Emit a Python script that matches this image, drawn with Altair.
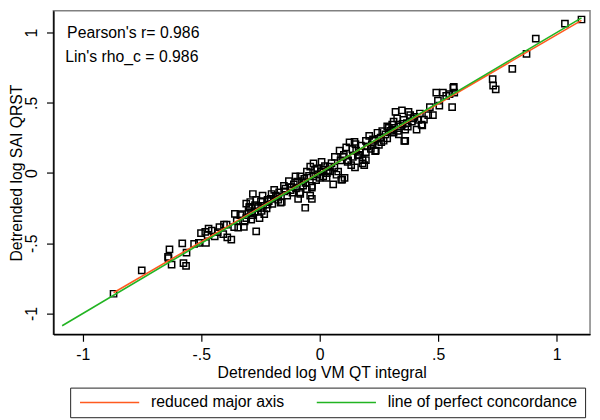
import altair as alt
import pandas as pd

# Scatter data (detrended log VM QT integral vs detrended log SAI QRST)
x_vals = [-0.870, -0.751, -0.634, -0.640, -0.638, -0.625, -0.580, -0.562, -0.575, -0.564,
          -0.530, -0.510, -0.501, -0.480, -0.483, -0.469, -0.473, -0.443, -0.423, -0.404,
          -0.393, -0.407, -0.390, -0.373, -0.358, -0.361, -0.344, -0.320, -0.310, -0.268,
          -0.297, -0.275, -0.239, -0.289, -0.254, -0.234, -0.165, -0.328, -0.317, -0.296,
          -0.293, -0.268, -0.273, -0.248, -0.241, -0.224, -0.220, -0.206, -0.203, -0.192,
          -0.171, -0.160, -0.151, -0.137, -0.130, -0.123, -0.109, -0.102, -0.091, -0.084,
          -0.075, -0.065, -0.061, -0.054, -0.040, -0.033, -0.026, -0.026, -0.020, -0.282,
          -0.310, -0.082, -0.033, -0.010, 0.008, -0.001, 0.015, 0.029, 0.043, 0.057,
          0.064, 0.071, 0.078, 0.084, 0.098, 0.095, 0.105, 0.112, 0.126, 0.133,
          0.140, 0.151, 0.154, 0.161, 0.174, 0.181, 0.195, 0.195, 0.209, 0.216,
          0.229, 0.237, 0.244, 0.257, 0.264, 0.278, 0.285, 0.292, 0.306, 0.312,
          -0.040, -0.054, 0.285, 0.306, 0.312, 0.320, 0.327, 0.334, 0.340, 0.347,
          0.354, 0.361, 0.361, 0.368, 0.375, 0.382, 0.389, 0.396, 0.416, 0.423,
          0.430, 0.458, 0.465, 0.478, 0.492, 0.499, 0.520, 0.534, 0.548, 0.559,
          0.564, 0.566, 0.568, 0.409, 0.730, 0.732, 0.743, 0.813, 0.873, 0.912,
          1.035, 1.105, 0.091, 0.149, 0.181, 0.195, 0.234, 0.357, 0.433, -0.033,
          -0.082, 0.188, 0.015, 0.043, 0.147, -0.180, -0.150, -0.120, -0.100, -0.060,
          -0.010, 0.030, 0.050, 0.120, 0.170, 0.220, 0.260, -0.220, -0.260, -0.290,
          -0.200, -0.455, -0.430, -0.350, -0.335, -0.300, -0.285, -0.262, -0.245, -0.215,
          -0.185, -0.175, -0.145, -0.115, -0.095, -0.070, -0.045, -0.015, 0.005, 0.022,
          0.036, 0.062, 0.088, 0.102, 0.118, 0.138, 0.165, 0.202, 0.225, 0.250,
          0.270, 0.298, 0.330, 0.350, 0.372, 0.400, 0.440, 0.505]
y_vals = [-0.859, -0.692, -0.543, -0.596, -0.605, -0.651, -0.500, -0.566, -0.641, -0.660,
          -0.504, -0.497, -0.428, -0.497, -0.419, -0.396, -0.442, -0.451, -0.385, -0.367,
          -0.367, -0.435, -0.458, -0.474, -0.291, -0.385, -0.389, -0.383, -0.321, -0.415,
          -0.241, -0.275, -0.234, -0.332, -0.321, -0.293, -0.211, -0.293, -0.344, -0.247,
          -0.206, -0.190, -0.229, -0.199, -0.160, -0.252, -0.225, -0.183, -0.149, -0.119,
          -0.137, -0.206, -0.091, -0.160, -0.057, -0.122, -0.080, -0.023, -0.183, -0.137,
          -0.057, -0.041, -0.247, -0.115, -0.160, -0.091, -0.023, 0.069, 0.023, -0.149,
          -0.218, -0.023, -0.103, 0.034, 0.080, -0.034, 0.023, -0.034, 0.046, -0.080,
          0.115, -0.012, 0.011, 0.160, 0.115, -0.046, -0.034, 0.183, 0.218, 0.057,
          0.115, 0.206, 0.160, 0.126, 0.195, 0.092, 0.149, 0.229, 0.264, 0.172,
          0.229, 0.160, 0.287, 0.252, 0.298, 0.275, 0.247, 0.321, 0.344, 0.287,
          0.046, 0.011, 0.332, 0.309, 0.366, 0.435, 0.390, 0.275, 0.332, 0.447,
          0.378, 0.309, 0.229, 0.355, 0.435, 0.412, 0.366, 0.390, 0.378, 0.424,
          0.344, 0.412, 0.470, 0.412, 0.573, 0.516, 0.573, 0.550, 0.562, 0.470,
          0.607, 0.614, 0.573, 0.309, 0.669, 0.623, 0.596, 0.742, 0.848, 0.957,
          1.063, 1.093, -0.046, 0.041, 0.069, 0.092, 0.156, 0.229, 0.339, -0.183,
          -0.149, 0.057, -0.023, 0.011, 0.222, -0.170, -0.130, -0.100, -0.110, -0.070,
          -0.010, 0.000, 0.070, 0.090, 0.150, 0.200, 0.220, -0.190, -0.240, -0.280,
          -0.220, -0.410, -0.420, -0.340, -0.300, -0.270, -0.300, -0.250, -0.270, -0.200,
          -0.160, -0.190, -0.110, -0.140, -0.060, -0.090, -0.020, -0.050, 0.010, 0.050,
          0.020, 0.040, 0.090, 0.130, 0.080, 0.170, 0.130, 0.190, 0.240, 0.200,
          0.230, 0.300, 0.300, 0.350, 0.330, 0.400, 0.380, 0.480]

# Fitted lines (end points)
rma_x = [-0.870, 1.105]
rma_y = [-0.852, 1.087]
loc_x = [-1.087, 1.105]
loc_y = [-1.087, 1.105]
series_names = ["reduced major axis", "line of perfect concordance"]
series_colors = ["#ff5a1f", "#22b422"]

# Axis ticks
tick_values = [-1, -0.5, 0, 0.5, 1]
tick_labels = ["-1", "-.5", "0", ".5", "1"]

# Annotations
annot_text = ["Pearson's r= 0.986", "Lin's rho_c = 0.986"]
annot_x = [-1.066, -1.074]
annot_y = [0.997, 0.825]

FONT = "Liberation Sans"
FS = 16

label_expr = " : ".join(
    f"datum.value == {v} ? '{t}'" for v, t in zip(tick_values, tick_labels)
) + " : ''"

pts = pd.DataFrame({"x": x_vals, "y": y_vals})
rma = pd.DataFrame({"x": rma_x, "y": rma_y, "series": series_names[0]})
loc = pd.DataFrame({"x": loc_x, "y": loc_y, "series": series_names[1]})
ann = pd.DataFrame({"x": annot_x, "y": annot_y, "t": annot_text})

xscale = alt.Scale(domain=[-1.124, 1.141], nice=False, zero=False)
yscale = alt.Scale(domain=[-1.148, 1.155], nice=False, zero=False)

xaxis = alt.Axis(values=tick_values, labelExpr=label_expr, title="Detrended log VM QT integral",
                 grid=False, tickSize=7, labelPadding=6, titlePadding=2)
yaxis = alt.Axis(values=tick_values, labelExpr=label_expr, title="Detrended log SAI QRST",
                 grid=False, tickSize=7, labelPadding=10, labelAngle=270,
                 labelAlign="center", labelBaseline="alphabetic",
                 titleX=-37, titleY=164, titleAngle=270, titleAlign="center",
                 titleBaseline="middle")

color_scale = alt.Scale(domain=series_names, range=series_colors)
legend = alt.Legend(title=None, orient="none", legendX=17, legendY=382, direction="horizontal",
                    strokeColor="#222222", padding=7, symbolType="M-1,0L11,0", symbolSize=100,
                    symbolStrokeWidth=1.6, labelFontSize=FS, labelFont=FONT, labelOffset=59,
                    columnPadding=28, labelColor="black", labelLimit=400)

points = alt.Chart(pts).mark_point(shape="square", filled=False, color="black", size=40,
                                   strokeWidth=1.5, opacity=1).encode(
    x=alt.X("x:Q", scale=xscale, axis=xaxis),
    y=alt.Y("y:Q", scale=yscale, axis=yaxis),
)

line_rma = alt.Chart(rma).mark_line(strokeWidth=1.6).encode(
    x=alt.X("x:Q", scale=xscale),
    y=alt.Y("y:Q", scale=yscale),
    color=alt.Color("series:N", scale=color_scale, legend=legend),
)
line_loc = alt.Chart(loc).mark_line(strokeWidth=1.6).encode(
    x=alt.X("x:Q", scale=xscale),
    y=alt.Y("y:Q", scale=yscale),
    color=alt.Color("series:N", scale=color_scale, legend=legend),
)

text = alt.Chart(ann).mark_text(align="left", baseline="middle", fontSize=FS, font=FONT,
                                color="black").encode(
    x=alt.X("x:Q", scale=xscale),
    y=alt.Y("y:Q", scale=yscale),
    text="t:N",
)

chart = alt.layer(points, line_rma, line_loc, text).properties(
    width=544, height=328,
    autosize=alt.AutoSizeParams(type="none"),
    padding={"left": 46, "top": 0, "right": 2, "bottom": 84},
    background="white",
).configure_view(
    stroke="#808080", strokeWidth=1.5
).configure_axis(
    labelFont=FONT, titleFont=FONT, labelFontSize=FS, titleFontSize=FS,
    labelColor="black", titleColor="black", titleFontWeight="normal",
    domainColor="black", domainWidth=1.5, tickColor="black", tickWidth=1.2,
)

chart.save("out.html", embed_options={"renderer": "svg", "actions": False})
